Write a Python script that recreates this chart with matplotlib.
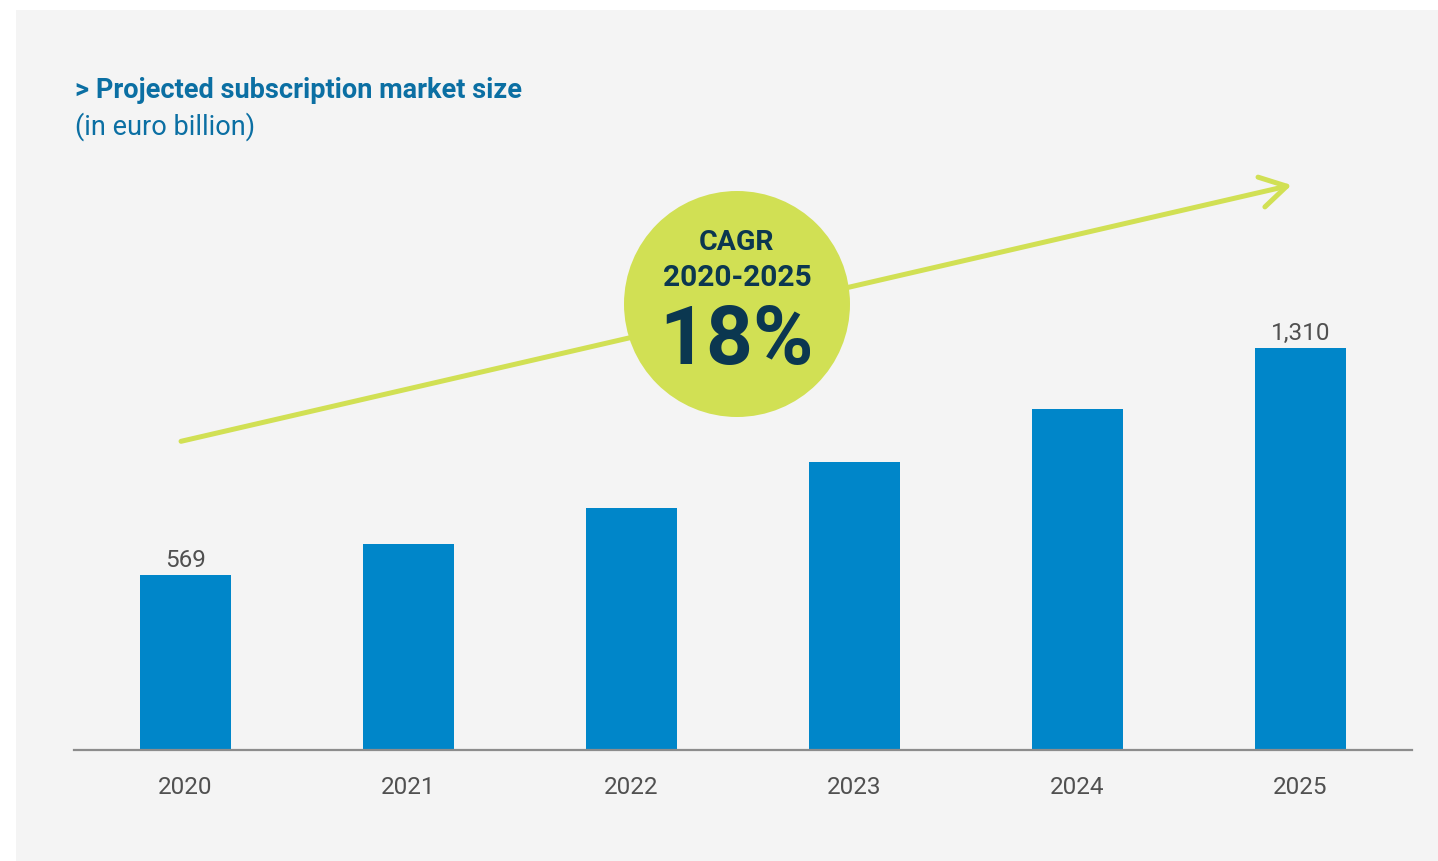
import matplotlib.pyplot as plt
from matplotlib.patches import Rectangle, Ellipse

# Dati del grafico
years = ['2020', '2021', '2022', '2023', '2024', '2025']
market_size = [569, 672, 790, 940, 1110, 1310]
shown_labels = ['569', '', '', '', '', '1,310']
cagr_text = '18%'

W, H = 1438, 862
BAR = '#0086c9'
GREEN = '#d1e054'
NAVY = '#0b3750'
GREY = '#505050'
TITLE_BLUE = '#0b6fa3'

plt.rcParams['font.family'] = ['Roboto', 'DejaVu Sans']

fig = plt.figure(figsize=(W / 100, H / 100), dpi=100, facecolor='white')

# pannello grigio chiaro
fig.add_artist(Rectangle((16 / W, 0), 1 - 16 / W, 851 / H, transform=fig.transFigure,
                         facecolor='#f4f4f4', edgecolor='none', zorder=0))

ax = fig.add_axes([74 / W, (H - 751) / H, (1412 - 74) / W, (751 - 160) / H])
ax.patch.set_alpha(0)
x = range(len(years))
bars = ax.bar(x, market_size, width=0.41, color=BAR, zorder=2)
ax.set_xlim(-0.5, 5.5)
ax.set_ylim(0, 1926)

for b, lab in zip(bars, shown_labels):
    if lab:
        ax.text(b.get_x() + b.get_width() / 2, b.get_height() + 14, lab,
                ha='center', va='bottom', fontsize=17.5, color=GREY)

ax.set_xticks(list(x))
ax.set_xticklabels(years, fontsize=17.5, color=GREY)
ax.tick_params(axis='x', length=0, pad=18)
ax.set_yticks([])
for s in ['top', 'right', 'left']:
    ax.spines[s].set_visible(False)
ax.spines['bottom'].set_color('#8c8c8c')
ax.spines['bottom'].set_linewidth(1.6)

# freccia di crescita
ax.annotate('', xy=(4.96, 1841), xytext=(-0.02, 1006),
            arrowprops=dict(arrowstyle='->, head_length=0.85, head_width=0.5',
                            color=GREEN, lw=3.6, mutation_scale=22,
                            shrinkA=0, shrinkB=0),
            zorder=3, annotation_clip=False)

# cerchio CAGR
cx, cy, r = 737, 305, 113
fig.add_artist(Ellipse((cx / W, 1 - cy / H), 2 * r / W, 2 * r / H,
                       transform=fig.transFigure, facecolor=GREEN,
                       edgecolor='none', zorder=4))
fig.text(cx / W, 1 - 242 / H, 'CAGR', ha='center', va='center',
         fontsize=20.5, fontweight='bold', color=NAVY, zorder=5)
fig.text(cx / W, 1 - 278 / H, '2020-2025', ha='center', va='center',
         fontsize=21.5, fontweight='bold', color=NAVY, zorder=5)
fig.text(cx / W, 1 - 342 / H, cagr_text, ha='center', va='center',
         fontsize=59, fontweight='bold', color=NAVY, zorder=5)

# titolo
fig.text(75 / W, 1 - 90 / H, '> Projected subscription market size', ha='left',
         va='center', fontsize=19.5, fontweight='bold', color=TITLE_BLUE)
fig.text(75 / W, 1 - 127 / H, '(in euro billion)', ha='left', va='center',
         fontsize=19.5, color=TITLE_BLUE)

fig.savefig('out.png', dpi=100, facecolor='white')
